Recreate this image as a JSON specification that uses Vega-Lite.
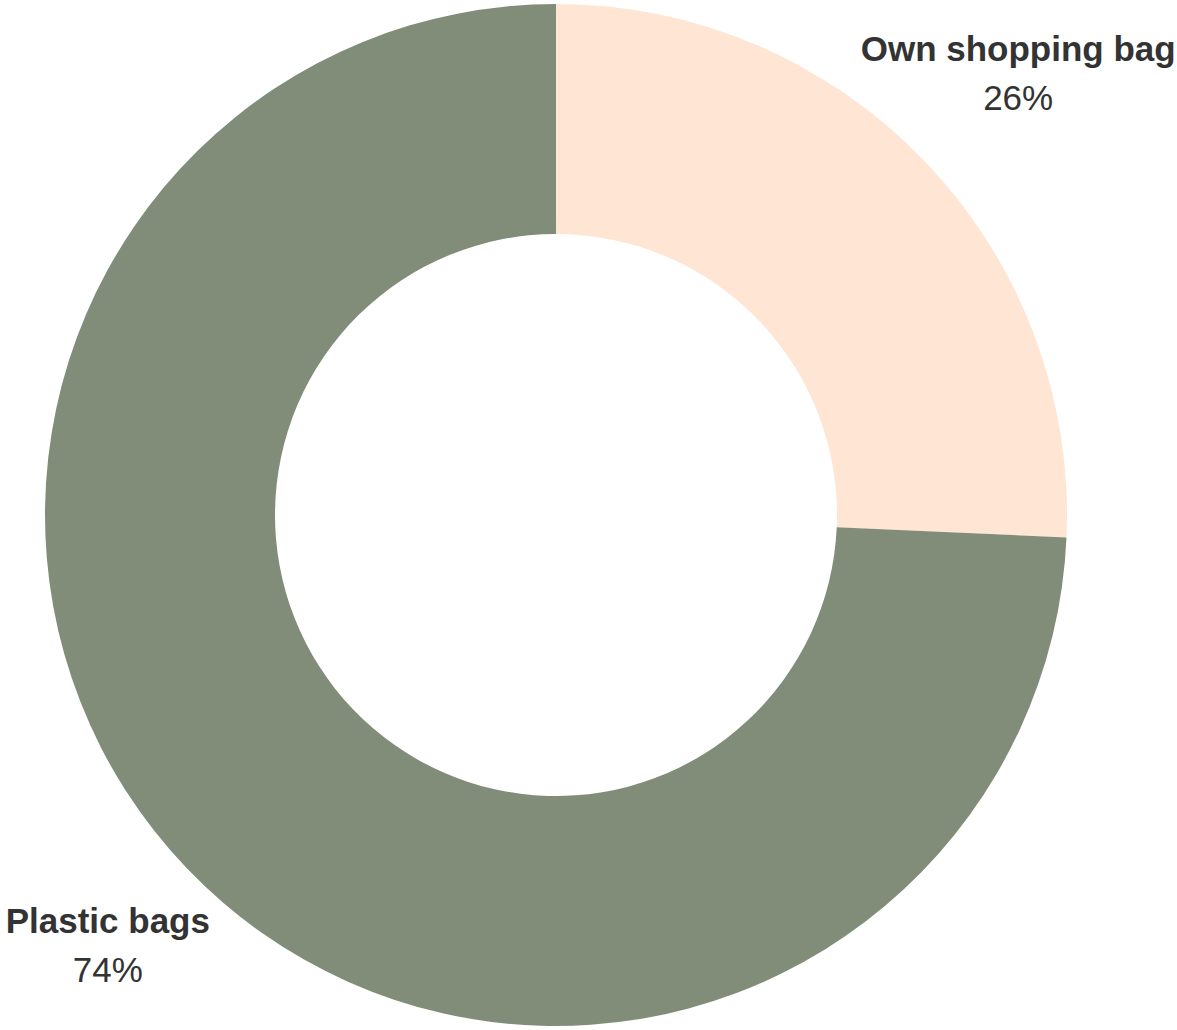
{
  "$schema": "https://vega.github.io/schema/vega-lite/v6.json",
  "width": 1112,
  "height": 1030,
  "padding": 0,
  "background": "white",
  "config": {"view": {"stroke": null}, "font": "Liberation Sans"},
  "data": {"values": [
    {"category": "Own shopping bag", "value": 25.7, "label": "26%"},
    {"category": "Plastic bags", "value": 74.3, "label": "74%"}
  ]},
  "encoding": {
    "theta": {"field": "value", "type": "quantitative", "stack": true},
    "color": {"field": "category", "type": "nominal", "legend": null,
      "scale": {"domain": ["Own shopping bag", "Plastic bags"], "range": ["#FEE5D4", "#818D78"]}}
  },
  "layer": [
    {"mark": {"type": "arc", "radius": 511, "innerRadius": 281}},
    {"mark": {"type": "text", "radius": 630, "dx": 7, "dy": -29, "fontSize": 35, "fontWeight": "bold", "fill": "#333333", "align": "center", "baseline": "middle"},
     "encoding": {"text": {"field": "category"}, "color": {"value": "#333333"}}},
    {"mark": {"type": "text", "radius": 630, "dx": 7, "dy": 20, "fontSize": 35, "fill": "#333333", "align": "center", "baseline": "middle"},
     "encoding": {"text": {"field": "label"}, "color": {"value": "#333333"}}}
  ]
}
